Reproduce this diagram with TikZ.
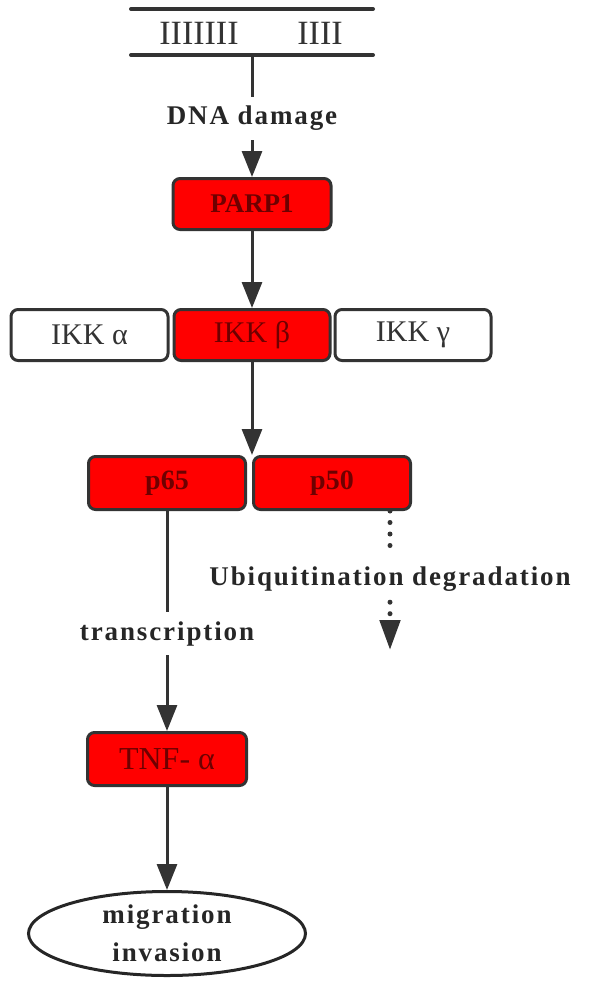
\documentclass[tikz,border=0pt]{standalone}
\usepackage{fontspec}
\setmainfont{Liberation Serif}
\newfontfamily\labfont[LetterSpace=7]{Liberation Serif}
\usetikzlibrary{arrows.meta,shapes.geometric}
\definecolor{lc}{HTML}{333333}
\definecolor{bred}{HTML}{FF0000}
\definecolor{dred}{HTML}{6E0000}
\begin{document}
\begin{tikzpicture}[x=1pt,y=-1pt,
  box/.style={draw=lc,line width=3pt,rounded corners=7pt,minimum height=51pt,inner sep=0pt,font=\fontsize{30}{30}\selectfont},
  redbox/.style={box,fill=bred,text=dred},
  whitebox/.style={box,fill=white,text=lc},
  lab/.style={inner sep=0pt,font=\labfont\bfseries\fontsize{27}{30}\selectfont,text=black!85},
  conn/.style={draw=lc,line width=3pt},
  arr/.style={conn,-{Triangle[length=26pt,width=20pt]}},
  dotline/.style={draw=lc,line width=5pt,line cap=round,dash pattern=on 0pt off 11.5pt},
]
\useasboundingbox (0,0) rectangle (589,986);
% DNA strands
\draw[lc,line width=4pt,line cap=round] (131,9) -- (373,9);
\draw[lc,line width=4pt,line cap=round] (131,55) -- (373,55);
\node[inner sep=0pt,text=lc,font=\fontsize{34}{34}\selectfont] (s1) at (199,33) {IIIIIII};
\node[inner sep=0pt,text=lc,font=\fontsize{34}{34}\selectfont] (s2) at (320,33) {IIII};
\coordinate (dna) at (252,55);
\node[lab,minimum height=43pt] (dmg) at (252,118.5) {DNA damage};
\node[redbox,minimum width=158pt,font=\bfseries\fontsize{27}{27}\selectfont] (parp) at (252,204) {PARP1};
\node[whitebox,minimum width=157pt] (ikka) at (89.5,335) {IKK α};
\node[redbox,minimum width=156pt] (ikkb) at (252,335) {IKK β};
\node[whitebox,minimum width=156pt] (ikkg) at (413,335) {IKK γ};
\node[redbox,minimum width=157pt,minimum height=53pt,font=\bfseries\fontsize{28}{28}\selectfont] (p65) at (167,483) {p65};
\node[redbox,minimum width=157pt,minimum height=53pt,font=\bfseries\fontsize{28}{28}\selectfont] (p50) at (332,483) {p50};
\coordinate (join) at (ikkb.south |- p65.north);
\node[lab,minimum height=43pt] (tr) at (167,633.5) {transcription};
\node[redbox,minimum width=159pt,minimum height=53pt,font=\fontsize{32}{32}\selectfont] (tnf) at (167,759) {TNF- α};
\node[ellipse,draw=black!85,line width=3pt,fill=white,minimum width=277pt,minimum height=84pt,inner sep=0pt,align=center,
  font=\labfont\bfseries\fontsize{27}{38}\selectfont,text=black!85] (mig) at (167,933.5) {migration\\invasion};
\node[lab,minimum height=52pt] (ub) at (390,579) {Ubiquitination degradation};
\coordinate (ubend) at (390,650);
% connectors
\draw[conn] (dna) -- (dmg.north);
\draw[arr] (dmg.south) -- (parp.north);
\draw[arr] (parp.south) -- (ikkb.north);
\draw[arr] (ikkb.south) -- (join);
\draw[conn] (p65.south) -- (tr.north);
\draw[arr] (tr.south) -- (tnf.north);
\draw[arr] (tnf.south) -- (mig.north);
\draw[dotline] (p50.south -| ub.north) -- (ub.north);
\draw[dotline,-{Triangle[length=30pt,width=20pt]}] ([yshift=3pt]ub.south) -- (ubend);
\end{tikzpicture}
\end{document}
